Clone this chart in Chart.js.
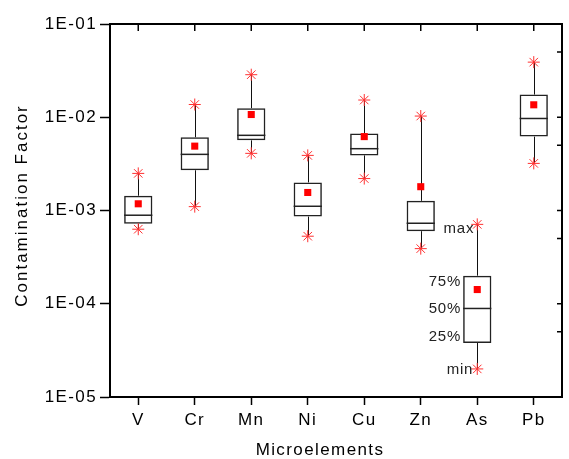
<!DOCTYPE html>
<html>
<head>
<meta charset="utf-8">
<script src="https://cdn.jsdelivr.net/npm/chart.js@4.4.1/dist/chart.umd.min.js"></script>
<style>
  html, body { margin: 0; padding: 0; background: #fff; }
  #wrap { width: 569px; height: 459px; }
</style>
</head>
<body>
<div id="wrap"><canvas id="box-chart"></canvas></div>
<script>
// Box plot values (contamination factor, log scale)
const categories = ['V', 'Cr', 'Mn', 'Ni', 'Cu', 'Zn', 'As', 'Pb'];
const minValues = [6.3e-4, 1.1e-3, 4.1e-3, 5.3e-4, 2.2e-3, 3.9e-4, 2.0e-5, 3.2e-3];
const q1Values = [7.2e-4, 2.7e-3, 5.65e-3, 8.6e-4, 3.9e-3, 6.0e-4, 3.8e-5, 6.2e-3];
const medianValues = [8.9e-4, 4.0e-3, 6.4e-3, 1.11e-3, 4.6e-3, 7.3e-4, 8.9e-5, 9.7e-3];
const q3Values = [1.44e-3, 6.1e-3, 1.25e-2, 2.0e-3, 6.7e-3, 1.27e-3, 2.0e-4, 1.75e-2];
const maxValues = [2.5e-3, 1.37e-2, 2.86e-2, 3.9e-3, 1.53e-2, 1.03e-2, 7.1e-4, 3.9e-2];
const meanValues = [1.18e-3, 4.9e-3, 1.07e-2, 1.56e-3, 6.2e-3, 1.8e-3, 1.42e-4, 1.36e-2];
const yTickValues = [1e-5, 1e-4, 1e-3, 1e-2, 1e-1];
const yMinorValues = [5e-5, 5e-4, 5e-3, 5e-2];
const legendCategory = 'As';
const xTitle = 'Microelements';
const yTitle = 'Contamination Factor';

const FONT = '"Liberation Sans", Arial, sans-serif';
const SPACING = '1.4px'; // the original text is drawn a bit wider than Arial

function formatTick(v) {
  const e = Math.round(Math.log10(v));
  return '1E-' + String(-e).padStart(2, '0');
}

const boxPlugin = {
  id: 'boxParts',
  beforeUpdate(chart) { chart.ctx.letterSpacing = SPACING; },
  beforeDraw(chart) { chart.ctx.letterSpacing = SPACING; },
  beforeDatasetsDraw(chart) {
    const ctx = chart.ctx;
    const xs = chart.scales.x, ys = chart.scales.y;
    ctx.save();
    ctx.strokeStyle = '#111';
    ctx.lineWidth = 1;
    categories.forEach((c, i) => {
      const x = Math.round(xs.getPixelForValue(i)) + 0.5;
      ctx.beginPath();
      ctx.moveTo(x, ys.getPixelForValue(maxValues[i]));
      ctx.lineTo(x, ys.getPixelForValue(q3Values[i]));
      ctx.moveTo(x, ys.getPixelForValue(q1Values[i]));
      ctx.lineTo(x, ys.getPixelForValue(minValues[i]));
      ctx.stroke();
    });
    ctx.restore();
  },
  afterDatasetsDraw(chart) {
    const ctx = chart.ctx;
    const xs = chart.scales.x, ys = chart.scales.y;
    const area = chart.chartArea;
    const bars = chart.getDatasetMeta(0).data;
    ctx.save();
    // medians
    ctx.strokeStyle = '#222';
    ctx.lineWidth = 1.5;
    categories.forEach((c, i) => {
      const x = xs.getPixelForValue(i);
      const w = bars[i].width;
      const y = ys.getPixelForValue(medianValues[i]);
      ctx.beginPath();
      ctx.moveTo(x - w / 2, y);
      ctx.lineTo(x + w / 2, y);
      ctx.stroke();
    });

    // top and right frame with inward ticks
    ctx.strokeStyle = '#000';
    ctx.lineWidth = 2;
    ctx.beginPath();
    ctx.moveTo(area.left, area.top);
    ctx.lineTo(area.right, area.top);
    ctx.lineTo(area.right, area.bottom);
    ctx.stroke();
    ctx.lineWidth = 1.5;
    ctx.beginPath();
    categories.forEach((c, i) => {
      const x = xs.getPixelForValue(i);
      ctx.moveTo(x, area.top);
      ctx.lineTo(x, area.top + 7);
    });
    yTickValues.concat(yMinorValues).forEach(v => {
      const y = ys.getPixelForValue(v);
      ctx.moveTo(area.right, y);
      ctx.lineTo(area.right - 5, y);
    });
    ctx.stroke();

    // explanation labels next to the As box
    const k = categories.indexOf(legendCategory);
    const x = xs.getPixelForValue(k);
    const w = bars[k].width;
    ctx.fillStyle = '#222';
    ctx.font = '15px ' + FONT;
    ctx.letterSpacing = '0.8px';
    ctx.textAlign = 'right';
    ctx.textBaseline = 'middle';
    ctx.fillText('max', x - 3, ys.getPixelForValue(maxValues[k]) + 4);
    ctx.fillText('75%', x - w / 2 - 2, ys.getPixelForValue(q3Values[k]) + 6);
    ctx.fillText('50%', x - w / 2 - 2, ys.getPixelForValue(medianValues[k]));
    ctx.fillText('25%', x - w / 2 - 2, ys.getPixelForValue(q1Values[k]) - 6);
    ctx.fillText('min', x - 4, ys.getPixelForValue(minValues[k]) + 1);
    ctx.restore();
  },
  afterDraw(chart) {
    // axis titles
    const ctx = chart.ctx;
    const area = chart.chartArea;
    ctx.save();
    ctx.fillStyle = '#000';
    ctx.font = '17px ' + FONT;
    ctx.textAlign = 'center';
    ctx.textBaseline = 'alphabetic';
    ctx.letterSpacing = '1.4px';
    ctx.fillText(xTitle, (area.left + area.right) / 2 - 16, 455);
    ctx.letterSpacing = '2px';
    ctx.translate(27, (area.top + area.bottom) / 2 - 5);
    ctx.rotate(-Math.PI / 2);
    ctx.fillText(yTitle, 0, 0);
    ctx.restore();
  }
};

const ctx = document.getElementById('box-chart').getContext('2d');
const boxChart = new Chart(ctx, {
  type: 'bar',
  data: {
    labels: categories,
    datasets: [
      {
        label: 'Box',
        data: categories.map((c, i) => [q1Values[i], q3Values[i]]),
        backgroundColor: 'rgba(0,0,0,0)',
        borderColor: '#222',
        borderWidth: 1.5,
        borderSkipped: false,
        barPercentage: 0.5,
        categoryPercentage: 1,
        order: 3,
      },
      {
        type: 'line',
        label: 'Max',
        data: maxValues,
        showLine: false,
        pointStyle: 'star',
        pointRadius: 6,
        pointBorderWidth: 1,
        borderColor: '#ff3030',
        backgroundColor: '#ff3030',
        order: 2,
      },
      {
        type: 'line',
        label: 'Min',
        data: minValues,
        showLine: false,
        pointStyle: 'star',
        pointRadius: 6,
        pointBorderWidth: 1,
        borderColor: '#ff3030',
        backgroundColor: '#ff3030',
        order: 2,
      },
      {
        type: 'line',
        label: 'Mean',
        data: meanValues,
        showLine: false,
        pointStyle: 'rect',
        pointRadius: 5,
        pointBorderWidth: 0,
        borderColor: '#ff0000',
        backgroundColor: '#ff0000',
        order: 1,
      },
    ],
  },
  options: {
    responsive: true,
    maintainAspectRatio: false,
    animation: false,
    layout: { padding: { top: 24, right: 1, left: 0, bottom: 0 } },
    plugins: {
      legend: { display: false },
      tooltip: { enabled: false },
    },
    scales: {
      x: {
        type: 'category',
        offset: true,
        afterFit: (scale) => { scale.height = 62; },
        grid: {
          offset: false,
          drawOnChartArea: false,
          tickLength: 8,
          tickColor: '#000',
          tickWidth: 1.5,
        },
        border: { color: '#000', width: 2 },
        ticks: { color: '#000', font: { family: FONT, size: 17 }, padding: 5 },
      },
      y: {
        type: 'logarithmic',
        min: 1e-5,
        max: 1e-1,
        afterFit: (scale) => { scale.width = 110; },
        afterBuildTicks: (scale) => {
          scale.ticks = yTickValues.map(v => ({ value: v, major: true }));
        },
        grid: {
          drawOnChartArea: false,
          tickLength: 10,
          tickColor: '#000',
          tickWidth: 1.5,
        },
        border: { color: '#000', width: 2 },
        ticks: {
          color: '#000',
          font: { family: FONT, size: 17 },
          padding: 3,
          autoSkip: false,
          callback: (v) => formatTick(v),
        },
      },
    },
  },
  plugins: [boxPlugin],
});
</script>
</body>
</html>
